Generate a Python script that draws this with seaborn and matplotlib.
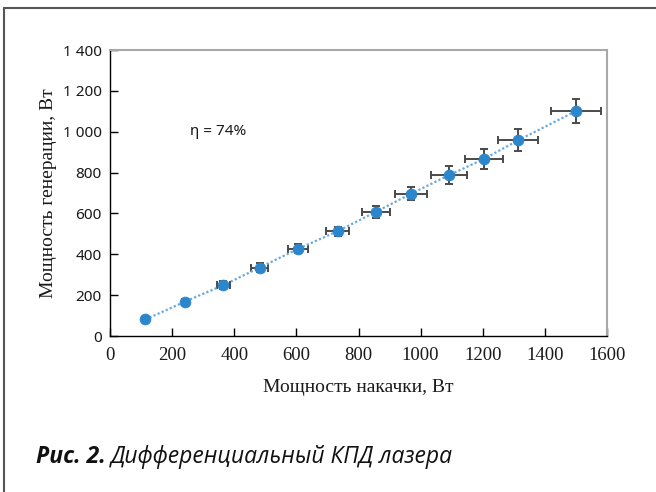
import matplotlib
matplotlib.use("Agg")
import matplotlib.pyplot as plt
import seaborn as sns
import numpy as np
import pandas as pd
from matplotlib.lines import Line2D

# Data
pump_power = [114, 241, 365, 482, 606, 733, 855, 970, 1091, 1203, 1314, 1500]
output_power = [81, 168, 249, 335, 427, 513, 607, 697, 787, 866, 958, 1101]
pump_err = [8, 10, 20, 27, 32, 37, 45, 51, 58, 61, 65, 80]
output_err = [12, 14, 20, 20, 22, 23, 31, 33, 43, 47, 54, 57]

x_ticks = [0, 200, 400, 600, 800, 1000, 1200, 1400, 1600]
x_ticklabels = ["0", "200", "400", "600", "800", "1000", "1200", "1400", "1600"]
y_ticks = [0, 200, 400, 600, 800, 1000, 1200, 1400]
y_ticklabels = ["0", "200", "400", "600", "800", "1 000", "1 200", "1 400"]

x_label = "Мощность накачки, Вт"
y_label = "Мощность генерации, Вт"
annotation = "η = 74%"
caption_bold = "Рис. 2."
caption_text = "Дифференциальный КПД лазера"

df = pd.DataFrame({"pump": pump_power, "out": output_power})

sns.set_theme(style="white")
plt.rcParams['font.family'] = ['Noto Sans', 'DejaVu Sans']

fig = plt.figure(figsize=(6.56, 4.92), dpi=100)
ax = fig.add_axes([110/656, 1-336/492, (607-110)/656, (336-50)/492])

ax.errorbar(pump_power, output_power, xerr=pump_err, yerr=output_err,
            fmt='none', ecolor='#4a4a4a', elinewidth=1.4, capsize=3, capthick=1.4, zorder=2)
sns.lineplot(data=df, x="pump", y="out", ax=ax, color='#6aa8dc', linestyle=(0, (1, 1)),
             linewidth=1.6, zorder=3, sort=False)
sns.scatterplot(data=df, x="pump", y="out", ax=ax, color='#2b86cc', s=60,
                edgecolor='#2b86cc', zorder=4)

ax.set_xlim(0, 1600)
ax.set_ylim(0, 1400)
ax.set_xticks(x_ticks)
ax.set_xticklabels(x_ticklabels, family='Liberation Serif', fontsize=13.5)
ax.set_yticks(y_ticks)
ax.set_yticklabels(y_ticklabels, fontsize=11)
ax.tick_params(axis='both', direction='in', length=6, width=1, color='black',
               labelcolor='#1a1a1a', left=True, bottom=True)
ax.tick_params(axis='x', pad=8)
ax.tick_params(axis='y', pad=6)

for s in ['left', 'bottom']:
    ax.spines[s].set_color('black')
    ax.spines[s].set_linewidth(1)
for s in ['top', 'right']:
    ax.spines[s].set_color('#a8a8a8')
    ax.spines[s].set_linewidth(1.5)

ax.set_xlabel(x_label, family='Liberation Serif', fontsize=14, color='#1a1a1a', labelpad=11)
ax.set_ylabel(y_label, family='Liberation Serif', fontsize=14, color='#1a1a1a', labelpad=4)

ax.text(258, 1003, annotation, fontsize=11, color='#1a1a1a', va='center', ha='left')

# Figure frame (top and left lines)
fig.add_artist(Line2D([4/656, 1], [1-8/492, 1-8/492], color='#555555', lw=1.5, transform=fig.transFigure))
fig.add_artist(Line2D([4/656, 4/656], [0, 1-8/492], color='#555555', lw=1.5, transform=fig.transFigure))

t1 = fig.text(36/656, 1-457/492, caption_bold, family='Open Sans', style='italic', weight='bold',
              fontsize=16.5, color='#111111', va='center', ha='left')
fig.canvas.draw()
bb = t1.get_window_extent()
fig.text((bb.x1 + 5)/656, 1-457/492, caption_text, family='Open Sans', style='italic',
         fontsize=16.5, color='#111111', va='center', ha='left')

fig.savefig("out.png", dpi=100)
